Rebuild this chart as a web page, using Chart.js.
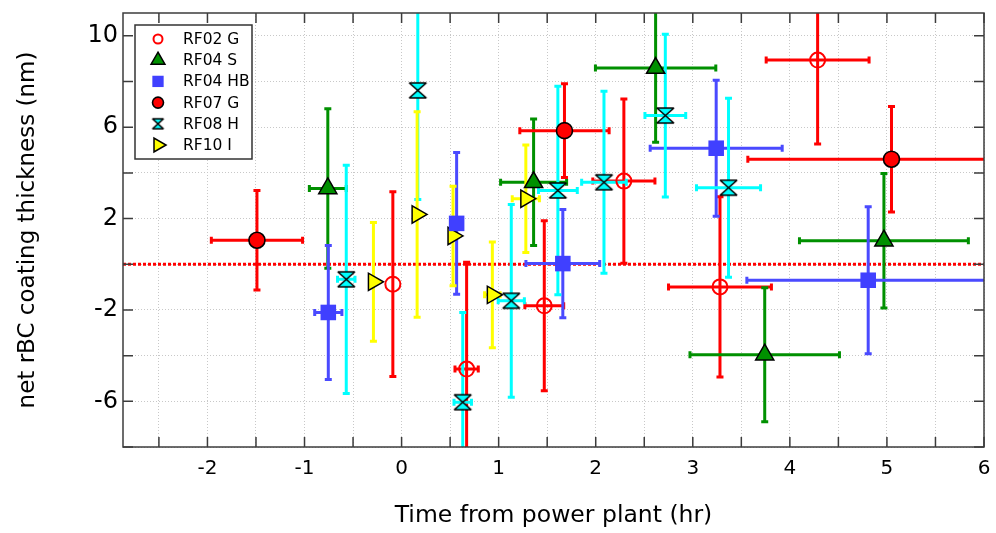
<!DOCTYPE html>
<html>
<head>
<meta charset="utf-8">
<title>net rBC coating thickness</title>
<script src="https://cdn.jsdelivr.net/npm/chart.js@4.4.1/dist/chart.umd.min.js"></script>
<style>
    html, body { margin: 0; padding: 0; background: #ffffff; }
    #chart { display: block; }
</style>
</head>
<body>
<canvas id="chart" width="996" height="533"></canvas>
<script>
// values (x = hours, y = nm, err = half width of the bar)
var seriesNames = ['RF02 G', 'RF04 S', 'RF04 HB', 'RF07 G', 'RF08 H', 'RF10 I'];

var rf02gX = [-0.09, 0.67, 1.47, 2.29, 3.28, 4.286];
var rf02gY = [-0.87, -4.59, -1.82, 3.64, -0.99, 8.94];
var rf02gXErr = [0, 0.12, 0.20, 0.32, 0.53, 0.53];
var rf02gYErr = [4.04, 4.68, 3.72, 3.6, 3.95, 3.68];

var rf04sX = [-0.76, 1.36, 2.617, 3.741, 4.969];
var rf04sY = [3.32, 3.59, 8.59, -3.96, 1.03];
var rf04sXErr = [0.19, 0.34, 0.62, 0.77, 0.87];
var rf04sYErr = [3.49, 2.77, 3.25, 2.93, 2.94];

var rf04hbX = [-0.755, 0.567, 1.661, 3.241, 4.807];
var rf04hbY = [-2.11, 1.79, 0.03, 5.08, -0.70];
var rf04hbXErr = [0.14, 0, 0.38, 0.68, 1.25];
var rf04hbYErr = [2.93, 3.1, 2.37, 2.98, 3.22];

var rf07gX = [-1.49, 1.678, 5.047];
var rf07gY = [1.05, 5.85, 4.60];
var rf07gXErr = [0.47, 0.46, 1.48];
var rf07gYErr = [2.18, 2.05, 2.31];

var rf08hX = [-0.57, 0.167, 0.63, 1.13, 1.61, 2.085, 2.717, 3.368];
var rf08hY = [-0.66, 7.61, -6.04, -1.60, 3.23, 3.59, 6.51, 3.35];
var rf08hXErr = [0.09, 0, 0.09, 0.135, 0.20, 0.23, 0.21, 0.33];
var rf08hYErr = [5.0, 4.77, 3.93, 4.22, 4.56, 3.98, 3.56, 3.92];

var rf10iX = [-0.29, 0.16, 0.53, 0.935, 1.28];
var rf10iY = [-0.77, 2.18, 1.24, -1.34, 2.87];
var rf10iXErr = [0, 0, 0, 0.08, 0.14];
var rf10iYErr = [2.6, 4.5, 2.18, 2.31, 2.35];

var xTickLabels = [-2, -1, 0, 1, 2, 3, 4, 5, 6];
var yTickLabels = [-6, -2, 2, 6, 10];
var zeroLine = 0;

var fontFamily = "'DejaVu Sans', 'Liberation Sans', sans-serif";


function toPoints(xs, ys) {
    return xs.map(function (x, i) {
        return { x: x, y: ys[i] };
    });
}

// hourglass marker for RF08 H
function makeHourglass(w, h, fill) {
    var c = document.createElement('canvas');
    c.width = Math.ceil(w * 2 + 4);
    c.height = Math.ceil(h * 2 + 4);
    var g = c.getContext('2d');
    var cx = c.width / 2, cy = c.height / 2;
    g.beginPath();
    g.moveTo(cx - w, cy - h);
    g.lineTo(cx + w, cy - h);
    g.lineTo(cx - w, cy + h);
    g.lineTo(cx + w, cy + h);
    g.closePath();
    g.fillStyle = fill;
    g.fill();
    g.lineWidth = 1.6;
    g.lineJoin = 'miter';
    g.miterLimit = 2;
    g.strokeStyle = '#000000';
    g.stroke();
    return c;
}

var hourglassBig = makeHourglass(8.5, 7.5, '#00ffff');
var hourglassSmall = makeHourglass(5.5, 5, '#00ffff');


var datasets = [
    {
        label: seriesNames[0],
        data: toPoints(rf02gX, rf02gY),
        xErr: rf02gXErr, yErr: rf02gYErr, errColor: '#ff0000',
        pointStyle: 'circle', pointRadius: 7.5, pointRotation: 0,
        backgroundColor: 'rgba(255,255,255,0)', borderColor: '#ff0000', borderWidth: 2,
        legendStyle: { pointStyle: 'circle', radius: 4.5, rotation: 0 }
    },
    {
        label: seriesNames[1],
        data: toPoints(rf04sX, rf04sY),
        xErr: rf04sXErr, yErr: rf04sYErr, errColor: '#009000',
        pointStyle: 'triangle', pointRadius: 10.5, pointRotation: 0,
        backgroundColor: '#009000', borderColor: '#000000', borderWidth: 1.5,
        legendStyle: { pointStyle: 'triangle', radius: 8, rotation: 0 }
    },
    {
        label: seriesNames[2],
        data: toPoints(rf04hbX, rf04hbY),
        xErr: rf04hbXErr, yErr: rf04hbYErr, errColor: '#4a4aff',
        pointStyle: 'rect', pointRadius: 11, pointRotation: 0,
        backgroundColor: '#4040ff', borderColor: '#4040ff', borderWidth: 0,
        legendStyle: { pointStyle: 'rect', radius: 8, rotation: 0 }
    },
    {
        label: seriesNames[3],
        data: toPoints(rf07gX, rf07gY),
        xErr: rf07gXErr, yErr: rf07gYErr, errColor: '#ff0000',
        pointStyle: 'circle', pointRadius: 8, pointRotation: 0,
        backgroundColor: '#ff0000', borderColor: '#000000', borderWidth: 1.6,
        legendStyle: { pointStyle: 'circle', radius: 5.5, rotation: 0 }
    },
    {
        label: seriesNames[4],
        data: toPoints(rf08hX, rf08hY),
        xErr: rf08hXErr, yErr: rf08hYErr, errColor: '#00ffff',
        pointStyle: hourglassBig, pointRadius: 9, pointRotation: 0,
        backgroundColor: '#00ffff', borderColor: '#000000', borderWidth: 1.5,
        legendStyle: { pointStyle: hourglassSmall, radius: 6, rotation: 0 }
    },
    {
        label: seriesNames[5],
        data: toPoints(rf10iX, rf10iY),
        xErr: rf10iXErr, yErr: rf10iYErr, errColor: '#ffff00',
        pointStyle: 'triangle', pointRadius: 10, pointRotation: 90,
        backgroundColor: '#ffff00', borderColor: '#000000', borderWidth: 1.5,
        legendStyle: { pointStyle: 'triangle', radius: 8, rotation: 90 }
    }
];


// dotted zero line + error bars, under the markers
var errorBarPlugin = {
    id: 'errorBars',
    beforeDatasetsDraw: function (chart) {
        let ctx = chart.ctx;
        let xs = chart.scales.x;
        let ys = chart.scales.y;
        let area = chart.chartArea;

        ctx.save();
        ctx.beginPath();
        ctx.rect(area.left, area.top, area.right - area.left, area.bottom - area.top);
        ctx.clip();

        // y = 0 reference
        let y0 = ys.getPixelForValue(zeroLine);
        ctx.strokeStyle = '#ff0000';
        ctx.lineWidth = 3;
        ctx.setLineDash([3, 2]);
        ctx.beginPath();
        ctx.moveTo(area.left, y0);
        ctx.lineTo(area.right, y0);
        ctx.stroke();
        ctx.setLineDash([]);

        let cap = 3.5;
        ctx.lineWidth = 3;
        ctx.lineCap = 'butt';

        chart.data.datasets.forEach(function (ds) {
            ctx.strokeStyle = ds.errColor;
            ds.data.forEach(function (p, i) {
                let px = xs.getPixelForValue(p.x);
                let py = ys.getPixelForValue(p.y);

                let ye = ds.yErr[i];
                if (ye > 0) {
                    let y1 = ys.getPixelForValue(p.y + ye);
                    let y2 = ys.getPixelForValue(p.y - ye);
                    ctx.beginPath();
                    ctx.moveTo(px, y1);
                    ctx.lineTo(px, y2);
                    ctx.moveTo(px - cap, y1);
                    ctx.lineTo(px + cap, y1);
                    ctx.moveTo(px - cap, y2);
                    ctx.lineTo(px + cap, y2);
                    ctx.stroke();
                }

                let xe = ds.xErr[i];
                if (xe > 0) {
                    let x1 = xs.getPixelForValue(p.x - xe);
                    let x2 = xs.getPixelForValue(p.x + xe);
                    ctx.beginPath();
                    ctx.moveTo(x1, py);
                    ctx.lineTo(x2, py);
                    ctx.moveTo(x1, py - cap);
                    ctx.lineTo(x1, py + cap);
                    ctx.moveTo(x2, py - cap);
                    ctx.lineTo(x2, py + cap);
                    ctx.stroke();
                }
            });
        });

        ctx.restore();
    }
};


// box round the plot with inward ticks on all four sides, and the legend
var framePlugin = {
    id: 'frameAndLegend',
    afterDraw: function (chart) {
        let ctx = chart.ctx;
        let area = chart.chartArea;
        let xs = chart.scales.x;
        let ys = chart.scales.y;
        let tickLen = 10;

        ctx.save();
        ctx.strokeStyle = '#3c3c3c';
        ctx.lineWidth = 1.5;

        ctx.beginPath();
        xs.ticks.forEach(function (t) {
            let px = xs.getPixelForValue(t.value);
            ctx.moveTo(px, area.bottom);
            ctx.lineTo(px, area.bottom - tickLen);
            ctx.moveTo(px, area.top);
            ctx.lineTo(px, area.top + tickLen);
        });
        ys.ticks.forEach(function (t) {
            let py = ys.getPixelForValue(t.value);
            ctx.moveTo(area.left, py);
            ctx.lineTo(area.left + tickLen, py);
            ctx.moveTo(area.right, py);
            ctx.lineTo(area.right - tickLen, py);
        });
        ctx.stroke();

        ctx.strokeRect(area.left, area.top, area.right - area.left, area.bottom - area.top);

        // legend box
        let lx = area.left + 12;
        let ly = area.top + 12;
        let lw = 117;
        let lh = 134;
        let rowH = 21.2;

        ctx.fillStyle = '#ffffff';
        ctx.fillRect(lx, ly, lw, lh);
        ctx.strokeStyle = '#333333';
        ctx.lineWidth = 1.5;
        ctx.strokeRect(lx, ly, lw, lh);

        ctx.font = "15.5px " + fontFamily;
        ctx.textBaseline = 'middle';
        ctx.textAlign = 'left';

        chart.data.datasets.forEach(function (ds, i) {
            let cy = ly + 14 + i * rowH;
            let cx = lx + 23;
            let st = ds.legendStyle;
            ctx.save();
            ctx.fillStyle = ds.backgroundColor;
            ctx.strokeStyle = ds.borderColor;
            ctx.lineWidth = ds.borderWidth;
            Chart.helpers.drawPoint(ctx, {
                pointStyle: st.pointStyle,
                rotation: st.rotation,
                radius: st.radius,
                borderWidth: ds.borderWidth
            }, cx, cy);
            ctx.restore();

            ctx.fillStyle = '#000000';
            ctx.fillText(ds.label, lx + 48, cy + 1);
        });

        ctx.restore();
    }
};


function isLabel(list, v) {
    for (let i = 0; i < list.length; i++) {
        if (Math.abs(list[i] - v) < 1e-6) return true;
    }
    return false;
}

// no extra room for half tick labels at the ends, the layout padding does that
function noEndPadding(scale) {
    scale.paddingLeft = 0;
    scale.paddingRight = 0;
    scale.paddingTop = 0;
    scale.paddingBottom = 0;
}


let ctx = document.getElementById('chart').getContext('2d');

let chart = new Chart(ctx, {
    type: 'scatter',
    data: { datasets: datasets },
    plugins: [errorBarPlugin, framePlugin],
    options: {
        responsive: false,
        animation: false,
        events: [],
        layout: {
            padding: { top: 13, right: 10, left: 0, bottom: 0 }
        },
        plugins: {
            legend: { display: false },
            tooltip: { enabled: false }
        },
        scales: {
            x: {
                type: 'linear',
                position: 'bottom',
                min: -2.87,
                max: 6,
                afterFit: function (scale) {
                    scale.height = 86;
                    noEndPadding(scale);
                },
                ticks: {
                    stepSize: 0.5,
                    includeBounds: false,
                    autoSkip: false,
                    maxRotation: 0,
                    padding: 10,
                    color: '#000000',
                    font: { family: fontFamily, size: 20 },
                    callback: function (value) {
                        return isLabel(xTickLabels, value) ? String(Math.round(value)) : '';
                    }
                },
                grid: {
                    color: '#c8c8c8',
                    lineWidth: 1,
                    drawTicks: false
                },
                border: { display: false, dash: [1, 2] },
                title: {
                    display: true,
                    text: 'Time from power plant (hr)',
                    color: '#000000',
                    font: { family: fontFamily, size: 23.5 },
                    padding: { top: 0, bottom: 3 }
                }
            },
            y: {
                type: 'linear',
                position: 'left',
                min: -8,
                max: 11,
                afterFit: function (scale) {
                    scale.width = 123;
                    noEndPadding(scale);
                },
                ticks: {
                    stepSize: 2,
                    includeBounds: false,
                    autoSkip: false,
                    padding: 5,
                    color: '#000000',
                    font: { family: fontFamily, size: 24 },
                    callback: function (value) {
                        return isLabel(yTickLabels, value) ? String(Math.round(value)) : '';
                    }
                },
                grid: {
                    color: '#c8c8c8',
                    lineWidth: 1,
                    drawTicks: false
                },
                border: { display: false, dash: [1, 2] },
                title: {
                    display: true,
                    text: 'net rBC coating thickness (nm)',
                    color: '#000000',
                    font: { family: fontFamily, size: 23 },
                    padding: { top: 14, bottom: 0 }
                }
            }
        }
    }
});
</script>
</body>
</html>
